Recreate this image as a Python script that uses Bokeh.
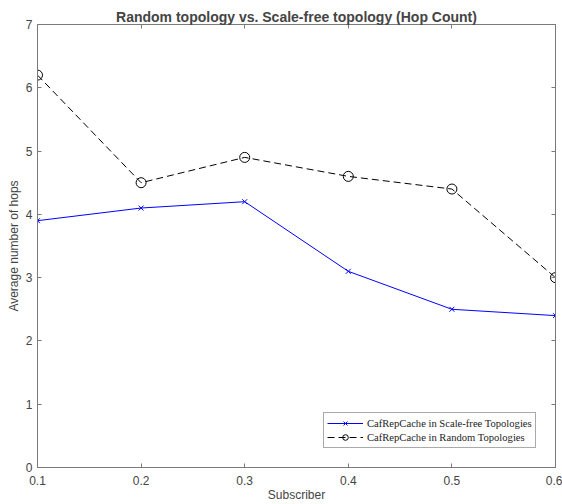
from bokeh.plotting import figure
from bokeh.models import LinearAxis, Legend, LegendItem, FixedTicker
from bokeh.embed import file_html
from bokeh.resources import INLINE

subscriber = [0.1, 0.2, 0.3, 0.4, 0.5, 0.6]
scale_free = [3.9, 4.1, 4.2, 3.1, 2.5, 2.4]
random_topo = [6.2, 4.5, 4.9, 4.6, 4.4, 3.0]
x_ticks = [0.1, 0.2, 0.3, 0.4, 0.5, 0.6]
y_ticks = [0, 1, 2, 3, 4, 5, 6, 7]

p = figure(width=562, height=504, output_backend="svg", toolbar_location=None,
           x_range=(0.1, 0.6), y_range=(0, 7),
           title="Random topology vs. Scale-free topology (Hop Count)",
           min_border_left=37, min_border_right=7, min_border_top=24, min_border_bottom=37)
p.title.align = "center"
p.title.text_font = "Liberation Sans"
p.title.text_font_size = "14px"
p.title.text_font_style = "bold"
p.title.standoff = 0
p.title.offset = 0

p.xgrid.visible = False
p.ygrid.visible = False
p.outline_line_color = "#888888"
p.background_fill_color = "white"
p.border_fill_color = "white"

axis_col = "#7a7a7a"
for ax in [p.xaxis[0], p.yaxis[0]]:
    ax.axis_line_color = axis_col
    ax.major_tick_line_color = axis_col
    ax.major_tick_in = 4
    ax.major_tick_out = 0
    ax.minor_tick_line_color = None
    ax.major_label_text_font = "Liberation Sans"
    ax.major_label_text_font_size = "12px"
    ax.major_label_text_color = "#444444"
    ax.axis_label_text_font = "Liberation Sans"
    ax.axis_label_text_font_size = "12px"
    ax.axis_label_text_font_style = "normal"
    ax.axis_label_text_color = "#444444"
    ax.axis_label_standoff = 0
    ax.major_label_standoff = 5

p.xaxis[0].ticker = FixedTicker(ticks=x_ticks)
p.yaxis[0].ticker = FixedTicker(ticks=y_ticks)
p.xaxis[0].axis_label = "Subscriber"
p.xaxis[0].major_label_standoff = 8
p.yaxis[0].axis_label = "Average number of hops"
p.yaxis[0].axis_label_standoff = 2
p.yaxis[0].major_label_orientation = "horizontal"

top = LinearAxis(ticker=FixedTicker(ticks=x_ticks),
                 major_label_overrides={t: "" for t in x_ticks},
                 axis_line_color=axis_col, major_tick_line_color=axis_col,
                 major_tick_in=4, major_tick_out=0, minor_tick_line_color=None,
                 major_label_standoff=0)
right = LinearAxis(ticker=FixedTicker(ticks=y_ticks),
                   major_label_overrides={t: "" for t in y_ticks},
                   axis_line_color=axis_col, major_tick_line_color=axis_col,
                   major_tick_in=4, major_tick_out=0, minor_tick_line_color=None,
                   major_label_standoff=0)
p.add_layout(top, "above")
p.add_layout(right, "right")

l1 = p.line(subscriber, scale_free, line_color="blue", line_width=1)
m1 = p.scatter(subscriber, scale_free, marker="x", size=7, line_color="blue", line_width=1)
l2 = p.line(subscriber, random_topo, line_color="black", line_width=1, line_dash="7 4")
m2 = p.scatter(subscriber, random_topo, marker="circle", size=10, line_color="black",
               fill_color=None, line_width=1)

legend = Legend(items=[
    LegendItem(label="CafRepCache in Scale-free Topologies", renderers=[l1, m1]),
    LegendItem(label="CafRepCache in Random Topologies", renderers=[l2, m2]),
], location=(286, 19))
legend.label_text_font = "Liberation Serif"
legend.label_text_font_size = "10.6px"
legend.label_text_color = "#222222"
legend.border_line_color = "#555555"
legend.padding = 3
legend.spacing = 0
legend.margin = 0
legend.label_height = 14
legend.glyph_height = 14
legend.glyph_width = 36
legend.label_standoff = 4
p.add_layout(legend, "center")

open("out.html", "w").write(file_html(p, INLINE))
